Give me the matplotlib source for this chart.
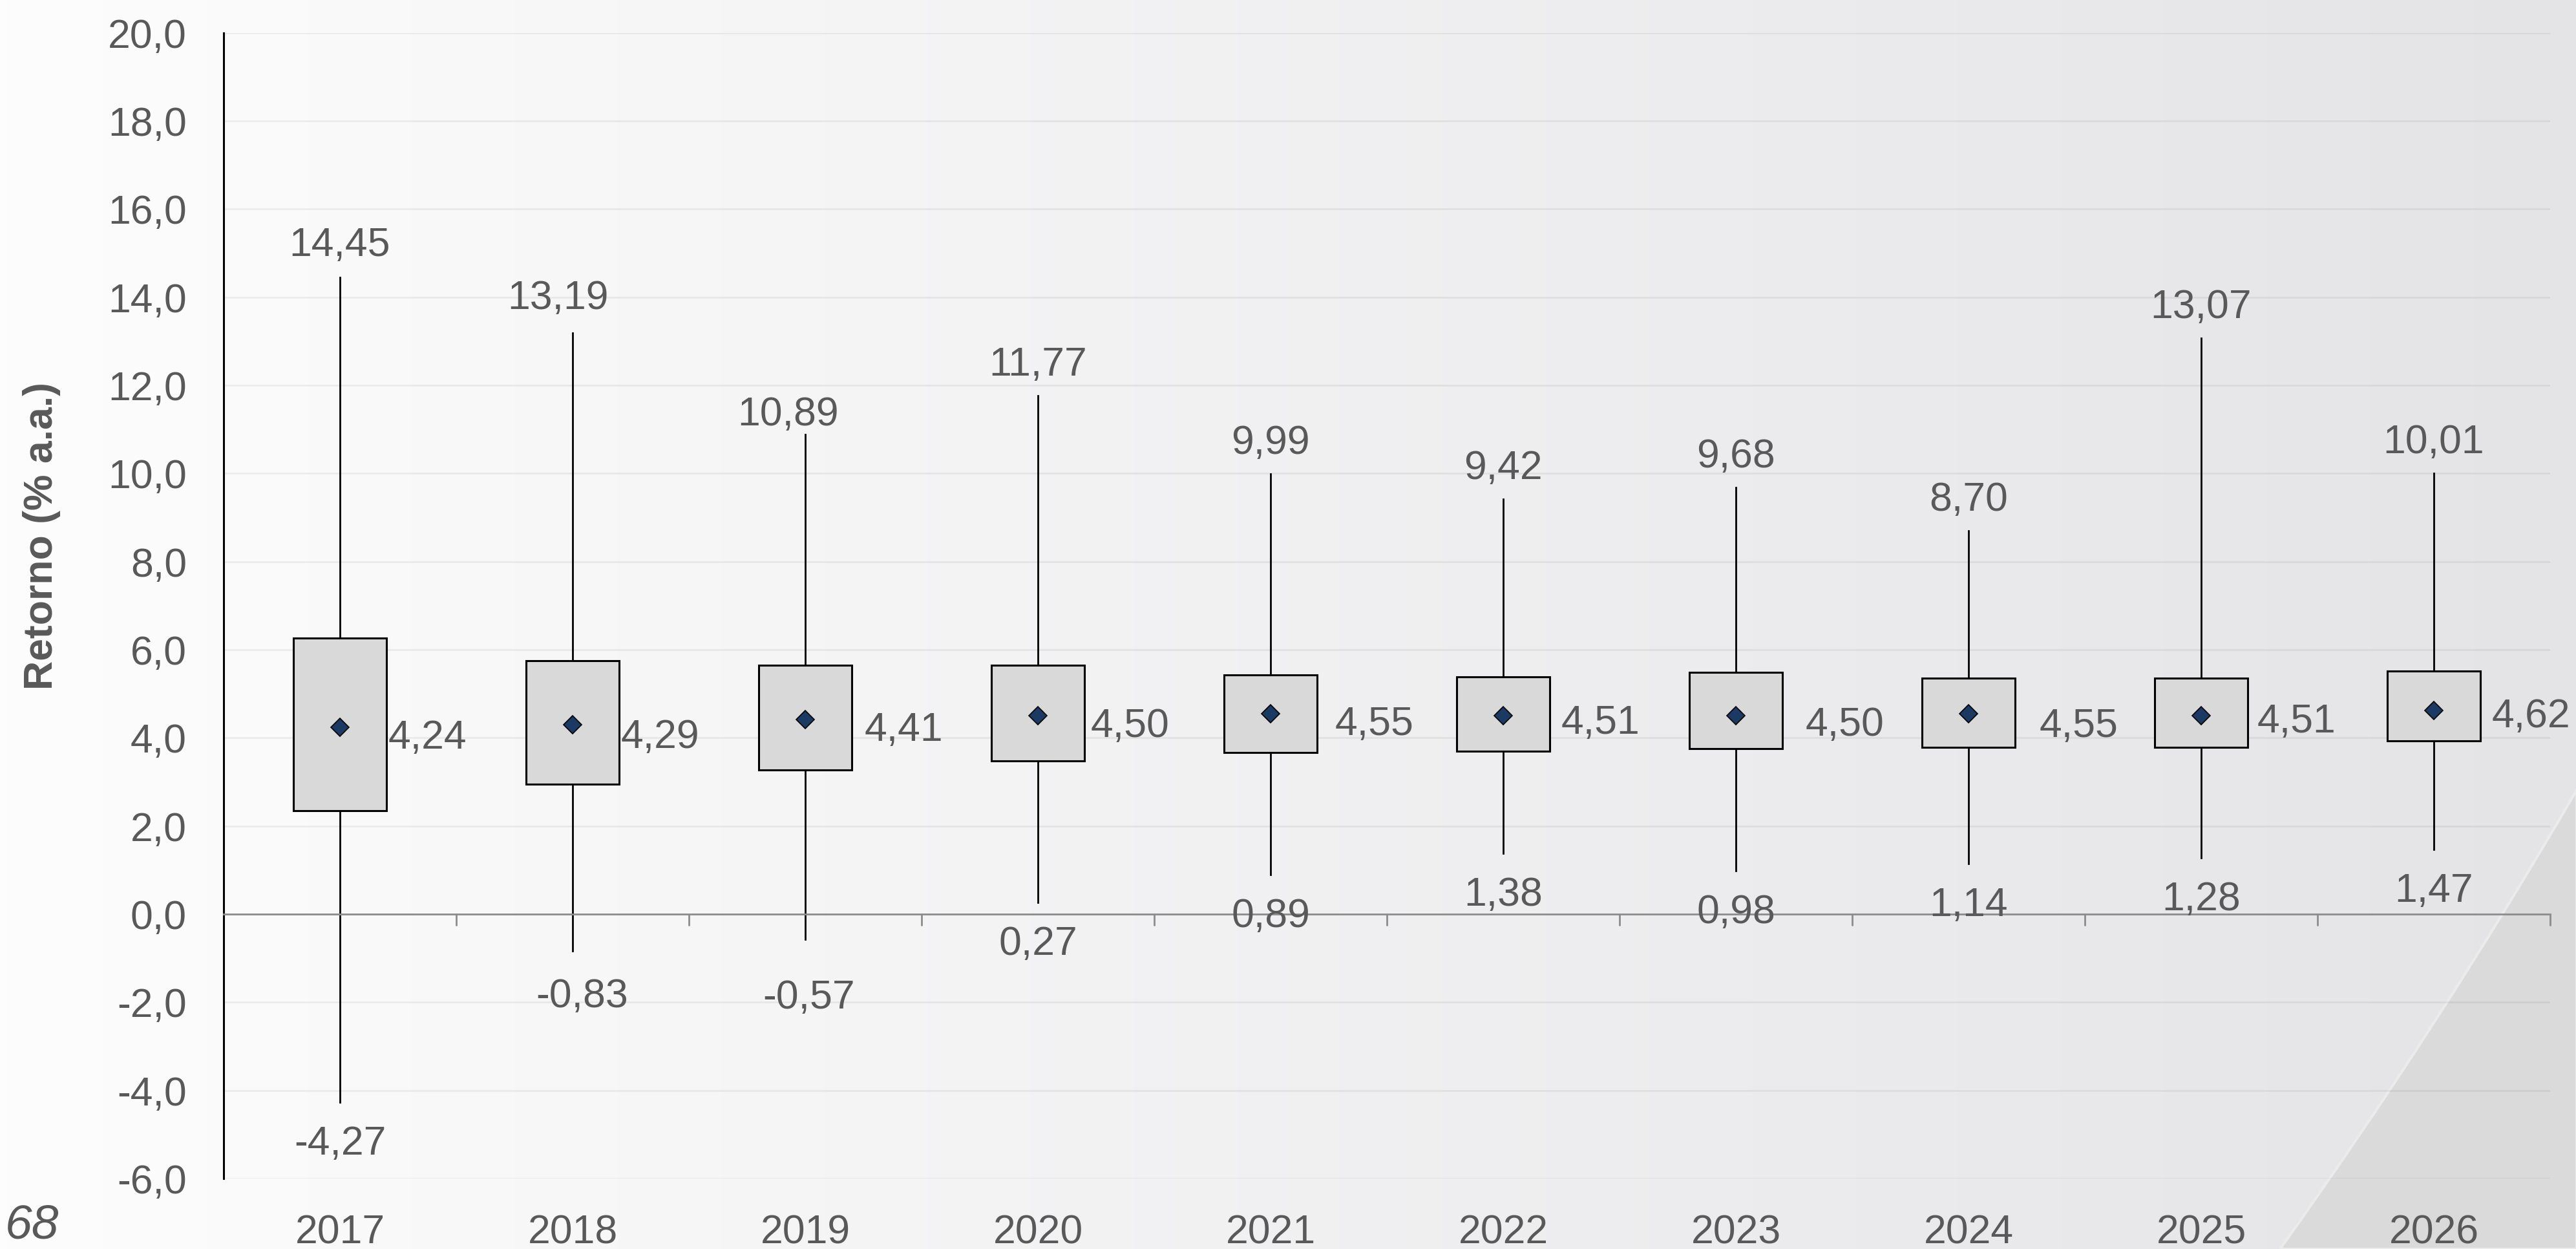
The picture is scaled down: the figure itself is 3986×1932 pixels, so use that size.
import matplotlib
matplotlib.use('Agg')
import matplotlib.pyplot as plt
import numpy as np
from matplotlib.path import Path
from matplotlib.patches import PathPatch

plt.rcParams['font.family'] = ['Liberation Sans', 'DejaVu Sans']

# simulated annual returns per year (% a.a.)
years = ['2017', '2018', '2019', '2020', '2021', '2022', '2023', '2024', '2025', '2026']
ret_max = [14.45, 13.19, 10.89, 11.77, 9.99, 9.42, 9.68, 8.70, 13.07, 10.01]
ret_q3 = [6.27, 5.75, 5.64, 5.64, 5.42, 5.39, 5.48, 5.36, 5.36, 5.51]
ret_mean = [4.24, 4.29, 4.41, 4.50, 4.55, 4.51, 4.50, 4.55, 4.51, 4.62]
ret_q1 = [2.35, 2.95, 3.27, 3.48, 3.67, 3.70, 3.76, 3.78, 3.78, 3.93]
ret_min = [-4.27, -0.83, -0.57, 0.27, 0.89, 1.38, 0.98, 1.14, 1.28, 1.47]

# label nudges in pixels (dx, dy)
max_off = [(0, 56), (-22, 60), (-26, 37)] + [(0, 54)] * 7
min_off = [(0, -58), (15, -64), (6, -84)] + [(0, -58)] * 7
mean_off = [(3, -10), (3, -13), (20, -10), (10, -10), (28, -10),
            (18, -5), (36, -8), (38, -13), (15, -3), (18, -3)]

TXT = '#595959'
FS = 45
PX = 0.72  # points per pixel at dpi 100


def fmt(v, nd=2):
    return f'{v:.{nd}f}'.replace('.', ',')


W, H = 3987, 1932
fig = plt.figure(figsize=(W / 100, H / 100), dpi=100)

# page background: soft horizontal gradient plus the curved shape at lower right
bg = fig.add_axes([0, 0, 1, 1], zorder=-1)
t = np.linspace(0, 1, 400)
left = np.array([253, 253, 253]) / 255
right = np.array([228, 228, 231]) / 255
grad = left[None, :] * (1 - t[:, None]) + right[None, :] * t[:, None]
bg.imshow(grad[None, :, :], aspect='auto', extent=[0, 1, 0, 1])
verts = [(3528 / W, 0), (3774.5 / W, 1 - 1587 / H), (1, 1 - 1222 / H), (1, 0), (3528 / W, 0)]
codes = [Path.MOVETO, Path.CURVE3, Path.CURVE3, Path.LINETO, Path.CLOSEPOLY]
bg.add_patch(PathPatch(Path(verts, codes), facecolor='#dadadb', edgecolor='#ebebeb', lw=3))
bg.set_xlim(0, 1)
bg.set_ylim(0, 1)
bg.axis('off')

ax = fig.add_axes([346 / W, 1 - 1823 / H, 3600 / W, 1772.5 / H])
ax.set_facecolor('none')

positions = np.arange(1, len(years) + 1)
stats = []
for i in range(len(years)):
    stats.append(dict(med=ret_mean[i], q1=ret_q1[i], q3=ret_q3[i],
                      whislo=ret_min[i], whishi=ret_max[i], mean=ret_mean[i], fliers=[]))

box_w = 0.4
ax.bxp(stats, positions=positions, widths=box_w, patch_artist=True,
       showmeans=True, showcaps=False, showfliers=False,
       boxprops=dict(facecolor='#d9d9d9', edgecolor='black', linewidth=2.2),
       whiskerprops=dict(color='black', linewidth=2),
       medianprops=dict(visible=False),
       meanprops=dict(marker='D', markerfacecolor='#1b3a63', markeredgecolor='black',
                      markersize=14, markeredgewidth=1.2))

for i, p in enumerate(positions):
    dx, dy = max_off[i]
    ax.annotate(fmt(ret_max[i]), (p, ret_max[i]), xytext=(dx * PX, dy * PX),
                textcoords='offset points', ha='center', va='center_baseline',
                fontsize=FS, color=TXT)
    dx, dy = min_off[i]
    ax.annotate(fmt(ret_min[i]), (p, ret_min[i]), xytext=(dx * PX, dy * PX),
                textcoords='offset points', ha='center', va='center_baseline',
                fontsize=FS, color=TXT)
    dx, dy = mean_off[i]
    ax.annotate(fmt(ret_mean[i]), (p + box_w / 2, ret_mean[i]), xytext=(dx * PX, dy * PX),
                textcoords='offset points', ha='left', va='center_baseline',
                fontsize=FS, color=TXT)

ax.set_xlim(0.5, len(years) + 0.5)
ax.set_ylim(-6, 20)
yt = np.arange(-6, 21, 2)
ax.set_yticks(yt, labels=[fmt(v, 1) for v in yt])
ax.tick_params(axis='y', length=0, pad=41, labelsize=FS, labelcolor=TXT)
ax.yaxis.grid(True, color='black', alpha=0.06, lw=2)
ax.set_axisbelow(True)

for s in ['top', 'right']:
    ax.spines[s].set_visible(False)
ax.spines['left'].set_color('black')
ax.spines['left'].set_linewidth(2.2)

# zero line with category separators
ax.spines['bottom'].set_position(('data', 0))
ax.spines['bottom'].set_color('#8c8c8c')
ax.spines['bottom'].set_linewidth(2)
ax.set_xticks([])
ax.set_xticks(np.arange(0.5, len(years) + 1, 1), minor=True)
ax.tick_params(axis='x', which='minor', length=13, width=2, color='#8c8c8c', direction='out')

# year labels along the bottom edge
sec = ax.secondary_xaxis('bottom')
sec.set_xticks(positions, labels=years)
sec.spines['bottom'].set_visible(False)
sec.tick_params(length=0, pad=39, labelsize=FS, labelcolor=TXT)

fig.text(65 / W, 1 - 829 / H, 'Retorno (% a.a.)', rotation=90, ha='center', va='center',
         fontsize=FS, fontweight='bold', color=TXT)
fig.text(8 / W, 2 / H, '68', style='italic', fontsize=54, color=TXT,
         ha='left', va='bottom')

fig.savefig('out.png', dpi=100)
